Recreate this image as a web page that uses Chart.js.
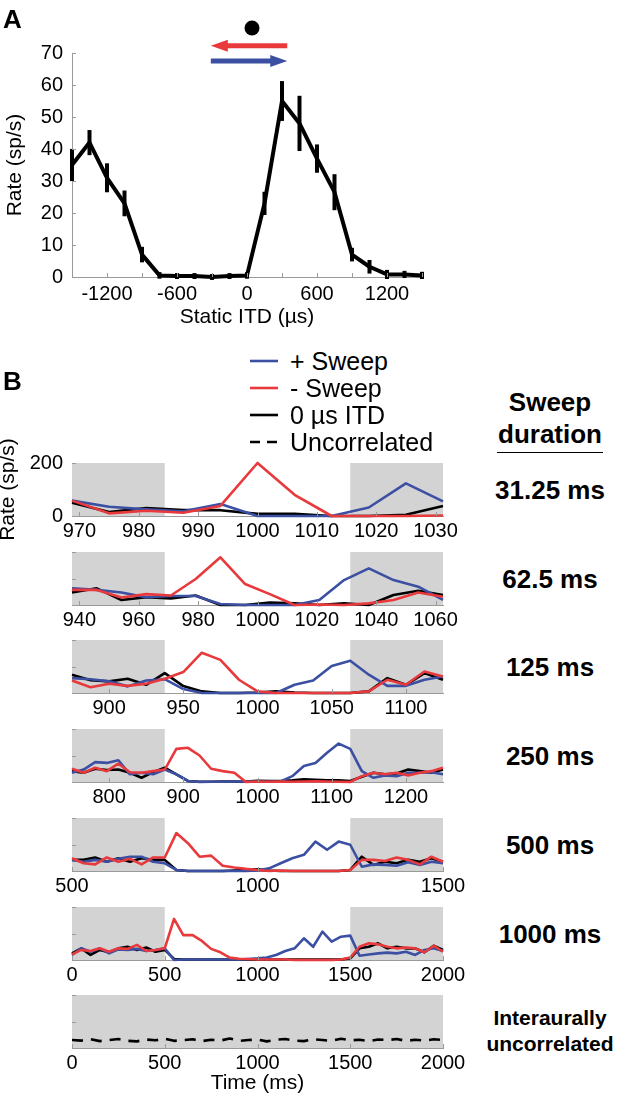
<!DOCTYPE html>
<html>
<head>
<meta charset="utf-8">
<script src="https://cdn.jsdelivr.net/npm/chart.js@4.4.1/dist/chart.umd.min.js"></script>
<style>
html,body{margin:0;padding:0;background:#fff;}
body{width:633px;height:1104px;position:relative;overflow:hidden;font-family:"Liberation Sans",Arial,Helvetica,sans-serif;color:#000;}
canvas{position:absolute;left:0;}
.c{position:absolute;white-space:nowrap;line-height:1;transform:translate(-50%,-50%);}
.l{position:absolute;white-space:nowrap;line-height:1;transform:translateY(-50%);}
.b{font-weight:bold;}
svg{position:absolute;}
</style>
</head>
<body>
<canvas id="cA"></canvas>
<canvas id="c1"></canvas>
<canvas id="c2"></canvas>
<canvas id="c3"></canvas>
<canvas id="c4"></canvas>
<canvas id="c5"></canvas>
<canvas id="c6"></canvas>
<canvas id="c7"></canvas>

<div class="l b" style="left:3px;top:19px;font-size:26px;">A</div>
<div class="l b" style="left:3px;top:381px;font-size:26px;">B</div>

<!-- legend -->
<svg style="left:250px;top:358px" width="28" height="6"><line x1="0" y1="3" x2="28" y2="3" stroke="#3b4fa3" stroke-width="2.6"/></svg>
<div class="l" style="left:290px;top:361px;font-size:25px;">+ Sweep</div>
<svg style="left:250px;top:385px" width="28" height="6"><line x1="0" y1="3" x2="28" y2="3" stroke="#e8393c" stroke-width="2.6"/></svg>
<div class="l" style="left:290px;top:388px;font-size:25px;">- Sweep</div>
<svg style="left:250px;top:412px" width="28" height="6"><line x1="0" y1="3" x2="28" y2="3" stroke="#000" stroke-width="2.6"/></svg>
<div class="l" style="left:290px;top:415px;font-size:25px;">0 µs ITD</div>
<svg style="left:250px;top:439px" width="28" height="6"><line x1="0" y1="3" x2="28" y2="3" stroke="#000" stroke-width="2.6" stroke-dasharray="10 7"/></svg>
<div class="l" style="left:290px;top:442px;font-size:25px;">Uncorrelated</div>

<!-- right column -->
<div class="c b" style="left:550px;top:402px;font-size:26px;">Sweep</div>
<div class="c b" style="left:550px;top:434px;font-size:26px;">duration</div>
<div style="position:absolute;left:497px;top:452px;width:106px;height:0;border-top:1.5px solid #000;"></div>
<div id="rightLabels"></div>
<div class="c b" style="left:550px;top:1017px;font-size:21px;">Interaurally</div>
<div class="c b" style="left:550px;top:1043px;font-size:21px;">uncorrelated</div>

<script>
const FONT_FAMILY = '"Liberation Sans", Arial, Helvetica, sans-serif';
const AXIS_GRAY = '#9a9a9a';
const SHADE_GRAY = '#d3d3d3';
const BLUE = '#3b4fa3';
const RED = '#e8393c';

// ---------- Panel A: static ITD tuning ----------
const itdValues  = [-1500,-1350,-1200,-1050,-900,-750,-600,-450,-300,-150,0,150,300,450,600,750,900,1050,1200,1350,1500];
const rateValues = [35,42,31,23,7,0.5,0.3,0.3,0,0.3,0.5,23,55,48,37,26.5,7,3.2,0.8,0.8,0.5];
const rateErrors = [4.4,3.3,3.9,3.4,1.8,0.4,0.3,0.3,0.3,0.3,0.4,3,5.6,8,3.8,5,1.5,1.5,0.8,0.5,0.5];
const itdTicks = [-1500,-1200,-900,-600,-300,0,300,600,900,1200,1500];
const itdTickLabels = ['','-1200','','-600','','0','','600','','1200',''];
const rateTicks = [0,10,20,30,40,50,60,70];
const rateTickLabels = ['0','10','20','30','40','50','60','70'];

// ---------- Panel B: sweep responses (sp/s) ----------
const sweep31Plus  = [58,35,25,18,45,0,0,0,32,123,55];
const sweep31Minus = [58,10,20,12,38,200,80,0,0,0,2];
const sweep31Zero  = [50,15,30,22,22,8,8,0,0,5,38];
const sweep31Ticks = [970,980,990,1000,1010,1020,1030];

const sweep62Plus  = [63,57,47,29,34,34,4,0,0,0,19,94,138,94,69,19];
const sweep62Minus = [57,57,28,41,36,98,180,79,41,0,2,0,6,19,47,31];
const sweep62Zero  = [47,63,19,29,25,36,0,0,9,6,0,6,0,38,54,38];
const sweep62Ticks = [940,960,980,1000,1020,1040,1060];

const sweep125Plus  = [56,52,44,25,47,52,15,0,0,0,0,0,31,47,102,122,69,27,27,50,62];
const sweep125Minus = [47,22,35,27,35,54,79,152,125,50,6,0,0,0,0,0,6,50,31,81,62];
const sweep125Zero  = [69,48,44,54,31,75,26,6,0,0,2,6,2,0,0,0,6,56,31,75,50];
const sweep125Ticks = [900,950,1000,1050,1100];

const sweep250Plus  = [35,47,75,72,82,29,35,29,47,29,4,0,1,1,2,2,1,1,2,22,60,72,110,145,125,41,16,25,22,35,35,37,29];
const sweep250Minus = [50,35,54,41,69,37,35,41,47,125,129,100,50,41,35,0,2,1,2,1,2,3,2,1,0,22,35,29,35,25,35,41,54];
const sweep250Zero  = [41,35,50,45,47,35,16,37,54,29,4,1,1,2,2,2,5,4,4,6,10,8,6,6,4,20,35,29,32,47,41,35,47];
const sweep250Ticks = [800,900,1000,1100,1200];

const sweep500Plus  = [42,35,42,35,46,54,54,35,29,4,0,0,0,0,0,0,2,10,29,48,61,111,80,111,99,16,25,23,20,33,23,35,29];
const sweep500Minus = [48,29,25,51,35,46,25,51,51,143,105,54,58,20,13,8,4,0,2,0,0,0,0,0,4,42,42,38,51,42,25,54,35];
const sweep500Zero  = [42,42,51,35,48,35,48,42,42,4,0,0,0,0,2,4,6,2,0,0,0,0,0,0,4,54,23,35,29,42,35,48,35];
const sweep500Ticks = [500,1000,1500];

const sweep1000Plus  = [19,44,31,44,25,40,38,42,34,38,44,0,2,2,2,2,2,2,2,4,6,9,19,34,44,82,50,107,69,88,92,16,21,25,28,25,31,19,38,44,34];
const sweep1000Minus = [21,38,34,44,31,44,42,57,34,38,44,155,94,94,72,42,29,9,5,4,2,2,2,2,0,0,0,0,0,2,9,50,63,59,50,44,47,44,29,54,31];
const sweep1000Zero  = [25,44,19,38,29,44,50,38,47,31,38,4,2,2,2,2,2,2,2,2,2,2,2,2,2,2,2,2,2,2,6,44,50,63,44,50,44,44,29,54,38];
const sweep1000Ticks = [0,500,1000,1500,2000];

const uncorrelatedRate  = [30,28,33,26,30,34,27,25,32,29,35,27,30,33,26,31,28,36,27,30,32,25,31,34,28,26,33,30,27,35,29,31,26,32,30,34,27,31,28,33,30];
const uncorrelatedTicks = [0,500,1000,1500,2000];

const smallRateTicks = [0,100,200];
const smallRateTickLabels = ['0','100','200'];
const sweepLabels = ['31.25 ms','62.5 ms','125 ms','250 ms','500 ms','1000 ms'];

// ---------- plugins ----------
const shadePlugin = {
  id:'shade',
  beforeDatasetsDraw(chart, args, opts){
    const {ctx, chartArea:a, scales:{x}} = chart;
    ctx.save(); ctx.fillStyle = SHADE_GRAY;
    (opts.ranges||[]).forEach(r=>{
      const x0 = x.getPixelForValue(r[0]), x1 = x.getPixelForValue(r[1]);
      ctx.fillRect(x0, a.top, x1-x0, a.bottom-a.top);
    });
    ctx.restore();
  }
};
const inTicksPlugin = {
  id:'inTicks',
  afterDatasetsDraw(chart, args, opts){
    const {ctx, chartArea:a, scales} = chart;
    const len = opts.length || 4;
    ctx.save(); ctx.strokeStyle = AXIS_GRAY; ctx.lineWidth = 1; ctx.beginPath();
    scales.x.ticks.forEach(t=>{const p=Math.round(scales.x.getPixelForValue(t.value))+0.5; ctx.moveTo(p,a.bottom); ctx.lineTo(p,a.bottom-len);});
    scales.y.ticks.forEach(t=>{const p=Math.round(scales.y.getPixelForValue(t.value))+0.5; ctx.moveTo(a.left,p); ctx.lineTo(a.left+len,p);});
    ctx.stroke(); ctx.restore();
  }
};
const errPlugin = {
  id:'errBars',
  afterDatasetsDraw(chart){
    const {ctx, scales:{x,y}} = chart;
    ctx.save(); ctx.strokeStyle='#000'; ctx.lineWidth=4; ctx.lineCap='butt';
    itdValues.forEach((v,i)=>{
      const px = x.getPixelForValue(v);
      const top = y.getPixelForValue(rateValues[i]+rateErrors[i]) - 2;
      const bot = y.getPixelForValue(rateValues[i]-rateErrors[i]) + 2;
      ctx.beginPath(); ctx.moveTo(px, top); ctx.lineTo(px, bot); ctx.stroke();
    });
    ctx.restore();
  }
};
const stimPlugin = {
  id:'stim',
  afterDraw(chart){
    const {ctx, scales:{x,y}} = chart;
    const xl = x.getPixelForValue(-310), xr = x.getPixelForValue(345);
    const yr = y.getPixelForValue(72.3), yb = y.getPixelForValue(67.5);
    ctx.save();
    ctx.fillStyle='#000';
    ctx.beginPath(); ctx.arc(x.getPixelForValue(43), y.getPixelForValue(77.8), 7.5, 0, Math.PI*2); ctx.fill();
    const arrow=(from,to,yy,col)=>{
      const dir = Math.sign(to-from), head=17;
      ctx.strokeStyle=col; ctx.fillStyle=col; ctx.lineWidth=5;
      ctx.beginPath(); ctx.moveTo(from,yy); ctx.lineTo(to-dir*head+dir*2,yy); ctx.stroke();
      ctx.beginPath(); ctx.moveTo(to,yy); ctx.lineTo(to-dir*head,yy-6); ctx.lineTo(to-dir*head,yy+6); ctx.closePath(); ctx.fill();
    };
    arrow(xr, xl, yr, RED);
    arrow(xl, xr, yb, BLUE);
    ctx.restore();
  }
};

function tickFont(size){ return {family:FONT_FAMILY, size:size}; }

// ---------- Panel A chart ----------
(function(){
  const cv = document.getElementById('cA');
  cv.width = 480; cv.height = 340; cv.style.top = '0px';
  new Chart(cv, {
    type:'line',
    data:{datasets:[{data:itdValues.map((v,i)=>({x:v,y:rateValues[i]})), borderColor:'#000', borderWidth:4, pointRadius:0, tension:0, clip:false, borderJoinStyle:'round'}]},
    options:{
      animation:false, responsive:false,
      layout:{padding:{top:53,right:58,bottom:10,left:0}},
      plugins:{legend:{display:false}, tooltip:{enabled:false}, inTicks:{length:4}},
      scales:{
        x:{type:'linear', min:-1500, max:1500,
           afterBuildTicks:s=>{s.ticks=itdTicks.map(v=>({value:v}));},
           afterFit:s=>{s.height=53;},
           ticks:{callback:(v,i)=>itdTickLabels[i], autoSkip:false, maxRotation:0, font:tickFont(20), color:'#000', padding:5},
           grid:{drawOnChartArea:false, drawTicks:false}, border:{color:AXIS_GRAY, width:1},
           title:{display:true, text:'Static ITD (µs)', font:tickFont(21), color:'#000', padding:0}},
        y:{type:'linear', min:0, max:70,
           afterBuildTicks:s=>{s.ticks=rateTicks.map(v=>({value:v}));},
           afterFit:s=>{s.width=72;},
           ticks:{callback:(v,i)=>rateTickLabels[i], font:tickFont(20), color:'#000', padding:9},
           grid:{drawOnChartArea:false, drawTicks:false}, border:{color:AXIS_GRAY, width:1},
           title:{display:true, text:'Rate (sp/s)', font:tickFont(21), color:'#000', padding:{top:3,bottom:0}}}
      }
    },
    plugins:[errPlugin, inTicksPlugin, stimPlugin]
  });
})();

// ---------- Panel B charts ----------
function series(start, step, values){ return values.map((v,i)=>({x:start+step*i, y:v})); }

const panels = [
  {id:'c1', top:463, min:968.75, max:1031.25, step:6.25, shade:[[968.75,984.375],[1015.625,1031.25]], ticks:sweep31Ticks, plus:sweep31Plus, minus:sweep31Minus, zero:sweep31Zero, yLabels:true},
  {id:'c2', top:552, min:937.5, max:1062.5, step:125/15, shade:[[937.5,968.75],[1031.25,1062.5]], ticks:sweep62Ticks, plus:sweep62Plus, minus:sweep62Minus, zero:sweep62Zero},
  {id:'c3', top:640, min:875, max:1125, step:12.5, shade:[[875,937.5],[1062.5,1125]], ticks:sweep125Ticks, plus:sweep125Plus, minus:sweep125Minus, zero:sweep125Zero},
  {id:'c4', top:729, min:750, max:1250, step:15.625, shade:[[750,875],[1125,1250]], ticks:sweep250Ticks, plus:sweep250Plus, minus:sweep250Minus, zero:sweep250Zero},
  {id:'c5', top:818, min:500, max:1500, step:31.25, shade:[[500,750],[1250,1500]], ticks:sweep500Ticks, plus:sweep500Plus, minus:sweep500Minus, zero:sweep500Zero},
  {id:'c6', top:907, min:0, max:2000, step:50, shade:[[0,500],[1500,2000]], ticks:sweep1000Ticks, plus:sweep1000Plus, minus:sweep1000Minus, zero:sweep1000Zero},
  {id:'c7', top:995, min:0, max:2000, step:50, shade:[[0,2000]], ticks:uncorrelatedTicks, uncorr:uncorrelatedRate, xTitle:'Time (ms)'}
];

const PLOT_H = 53;
panels.forEach((p,k)=>{
  const cv = document.getElementById(p.id);
  const padTop = p.yLabels ? 70 : 20;
  const axisH = p.xTitle ? 48 : 40;
  cv.width = 480; cv.height = padTop + PLOT_H + axisH;
  cv.style.top = (p.top - padTop) + 'px';
  const line = (data,color,dash)=>({data, borderColor:color, borderWidth:2.6, pointRadius:0, tension:0, clip:false, borderDash:dash||[], borderJoinStyle:'round'});
  const datasets = p.uncorr
    ? [line(series(p.min,p.step,p.uncorr),'#000',[11,8])]
    : [line(series(p.min,p.step,p.minus),RED), line(series(p.min,p.step,p.plus),BLUE), line(series(p.min,p.step,p.zero),'#000')];
  new Chart(cv, {
    type:'line',
    data:{datasets},
    options:{
      animation:false, responsive:false,
      layout:{padding:{top:padTop,right:37,bottom:0,left:0}},
      plugins:{legend:{display:false}, tooltip:{enabled:false}, shade:{ranges:p.shade}, inTicks:{length:4}},
      scales:{
        x:{type:'linear', min:p.min, max:p.max,
           afterBuildTicks:s=>{s.ticks=p.ticks.map(v=>({value:v}));},
           afterFit:s=>{s.height=axisH;},
           ticks:{autoSkip:false, maxRotation:0, font:tickFont(20), color:'#000', padding:3, callback:v=>String(v)},
           grid:{drawOnChartArea:false, drawTicks:false}, border:{color:AXIS_GRAY, width:1},
           title:{display:!!p.xTitle, text:p.xTitle||'', font:tickFont(21), color:'#000', padding:0}},
        y:{type:'linear', min:0, max:200,
           afterBuildTicks:s=>{s.ticks=smallRateTicks.map(v=>({value:v}));},
           afterFit:s=>{s.width=72;},
           ticks:{display:!!p.yLabels, callback:(v,i)=>smallRateTickLabels[i], font:tickFont(20), color:'#000', padding:9},
           grid:{drawOnChartArea:false, drawTicks:false}, border:{color:AXIS_GRAY, width:1},
           title:{display:!!p.yLabels, text:'Rate (sp/s)', font:{family:FONT_FAMILY,size:21,lineHeight:0.8}, color:'#000', padding:{top:0,bottom:0}}}
      }
    },
    plugins:[shadePlugin, inTicksPlugin]
  });
  if (k < sweepLabels.length) {
    const d = document.createElement('div');
    d.className='c b'; d.style.left='550px'; d.style.top=(p.top+PLOT_H/2)+'px'; d.style.fontSize='26px';
    d.textContent = sweepLabels[k];
    document.getElementById('rightLabels').appendChild(d);
  }
});
</script>
</body>
</html>
